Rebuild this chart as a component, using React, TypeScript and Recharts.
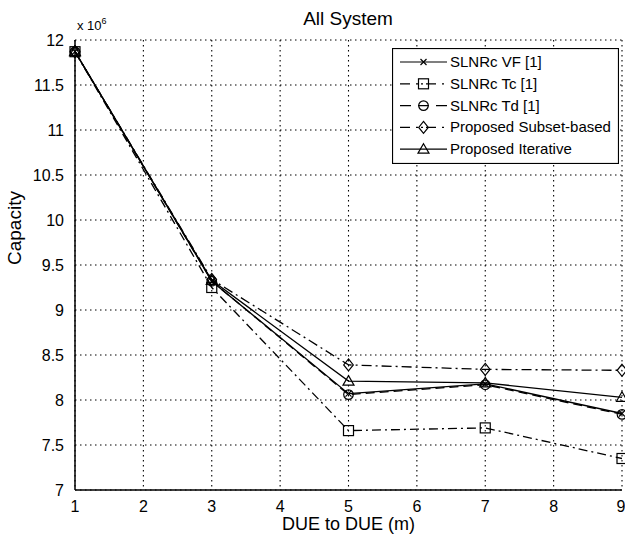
import React from 'react';
import { LineChart, Line, XAxis, YAxis, CartesianGrid, Legend } from 'recharts';

const distances = [1, 3, 5, 7, 9];
const slnrcVF = [11.87, 9.32, 8.07, 8.18, 7.85];
const slnrcTc = [11.87, 9.25, 7.66, 7.69, 7.35];
const slnrcTd = [11.87, 9.32, 8.06, 8.17, 7.84];
const proposedSubset = [11.87, 9.34, 8.39, 8.34, 8.33];
const proposedIterative = [11.87, 9.33, 8.21, 8.19, 8.03];

const xTicks = [1, 2, 3, 4, 5, 6, 7, 8, 9];
const yTicks = [7, 7.5, 8, 8.5, 9, 9.5, 10, 10.5, 11, 11.5, 12];

const seriesNames = ['SLNRc VF [1]', 'SLNRc Tc [1]', 'SLNRc Td [1]', 'Proposed Subset-based', 'Proposed Iterative'];

const data = distances.map((d, i) => ({
  d,
  vf: slnrcVF[i],
  tc: slnrcTc[i],
  td: slnrcTd[i],
  subset: proposedSubset[i],
  iter: proposedIterative[i],
}));

const FONT = 'Arial, "Liberation Sans", sans-serif';

type Mk = 'x' | 'square' | 'circle' | 'diamond' | 'triangle';

const Marker = ({ kind, cx, cy }: { kind: Mk; cx: number; cy: number }) => {
  const s = { fill: 'none', stroke: '#000', strokeWidth: 1.2 };
  if (kind === 'x') return <g><path d={`M${cx - 3},${cy - 3}L${cx + 3},${cy + 3}M${cx - 3},${cy + 3}L${cx + 3},${cy - 3}`} {...s} /></g>;
  if (kind === 'square') return <rect x={cx - 5} y={cy - 5} width={10} height={10} {...s} />;
  if (kind === 'circle') return <circle cx={cx} cy={cy} r={4.8} {...s} />;
  if (kind === 'diamond') return <path d={`M${cx},${cy - 6}L${cx + 4.8},${cy}L${cx},${cy + 6}L${cx - 4.8},${cy}Z`} {...s} />;
  return <path d={`M${cx},${cy - 5.5}L${cx + 5.5},${cy + 4}L${cx - 5.5},${cy + 4}Z`} {...s} />;
};

const dotFn = (kind: Mk) => (props: any) => {
  const { cx, cy, index } = props;
  if (cx == null || cy == null) return <g key={`${kind}-${index}`} />;
  return <g key={`${kind}-${index}`}><Marker kind={kind} cx={cx} cy={cy} /></g>;
};

const styles: { key: string; kind: Mk; dash?: string; legendDash?: string }[] = [
  { key: 'vf', kind: 'x' },
  { key: 'tc', kind: 'square', dash: '9 4 2 4', legendDash: '10 6 2 3 2 3' },
  { key: 'td', kind: 'circle', dash: '9 5', legendDash: '11 7' },
  { key: 'subset', kind: 'diamond', dash: '10 4 2 4', legendDash: '10 6 2 3 2 3' },
  { key: 'iter', kind: 'triangle' },
];

const LegendBox = () => (
  <svg width={227} height={116} style={{ display: 'block' }}>
    <rect x={0.5} y={0.5} width={226} height={115} fill="#fff" stroke="#000" strokeWidth={1.2} />
    {styles.map((s, i) => {
      const y = 14 + i * 21.8;
      return (
        <g key={s.key}>
          <line x1={8} x2={55} y1={y} y2={y} stroke="#000" strokeWidth={1.2} strokeDasharray={s.legendDash} />
          <Marker kind={s.kind} cx={31.5} cy={y} />
          <text x={58} y={y + 5} fontFamily={FONT} fontSize={15} fill="#000">{seriesNames[i]}</text>
        </g>
      );
    })}
  </svg>
);

const fmt = (v: number) => String(v);

export default function App() {
  return (
    <div style={{ position: 'absolute', left: 0, top: 0, width: 625, height: 538, background: '#fff' }}>
      <LineChart width={625} height={538} data={data} margin={{ top: 40, right: 3, bottom: 0, left: 0 }}>
        <CartesianGrid stroke="#000" strokeDasharray="1.5 3.5" strokeWidth={1.1} />
        <XAxis dataKey="d" type="number" domain={[1, 9]} ticks={xTicks} height={48} tickLine={false}
          axisLine={{ stroke: '#000', strokeWidth: 1.5 }} tick={{ fill: '#000', fontSize: 16, fontFamily: FONT }} tickMargin={5}
          label={{ value: 'DUE to DUE (m)', position: 'insideBottom', offset: 8, fill: '#000', fontSize: 18, fontFamily: FONT }} />
        <XAxis xAxisId="top" dataKey="d" type="number" domain={[1, 9]} ticks={xTicks} orientation="top" height={0}
          axisLine={{ stroke: '#000', strokeWidth: 1.5 }} tickLine={{ stroke: '#000' }} mirror tickSize={5} tickFormatter={() => ''} />
        <XAxis xAxisId="bot2" dataKey="d" type="number" domain={[1, 9]} ticks={xTicks} orientation="bottom" height={0}
          axisLine={false} tickLine={{ stroke: '#000' }} mirror tickSize={5} tickFormatter={() => ''} />
        <YAxis type="number" domain={[7, 12]} ticks={yTicks} width={75} tickLine={false} tickFormatter={fmt}
          axisLine={{ stroke: '#000', strokeWidth: 1.5 }} tick={{ fill: '#000', fontSize: 16, fontFamily: FONT }} tickMargin={5}
          label={{ value: 'Capacity', angle: -90, position: 'insideLeft', offset: 14, fill: '#000', fontSize: 19, fontFamily: FONT }} />
        <YAxis yAxisId="right" type="number" domain={[7, 12]} ticks={yTicks} orientation="right" width={0}
          axisLine={{ stroke: '#000', strokeWidth: 1.5 }} tickLine={{ stroke: '#000' }} mirror tickSize={5} tickFormatter={() => ''} />
        <YAxis yAxisId="left2" type="number" domain={[7, 12]} ticks={yTicks} orientation="left" width={0}
          axisLine={false} tickLine={{ stroke: '#000' }} mirror tickSize={5} tickFormatter={() => ''} />
        {styles.map((s) => (
          <Line key={s.key} dataKey={s.key} type="linear" stroke="#000" strokeWidth={1.3} strokeDasharray={s.dash}
            dot={dotFn(s.kind)} activeDot={false} isAnimationActive={false} />
        ))}
        <Legend layout="vertical" align="center" verticalAlign="middle" content={() => <LegendBox />}
          wrapperStyle={{ position: 'absolute', left: 392, top: 48, width: 227, height: 116 }} />
        <text x={348} y={25} textAnchor="middle" fontFamily={FONT} fontSize={19} fill="#000">All System</text>
        <text x={77} y={30} fontFamily={FONT} fontSize={13} fill="#000">x 10<tspan dy={-6} fontSize={9}>6</tspan></text>
      </LineChart>
    </div>
  );
}
